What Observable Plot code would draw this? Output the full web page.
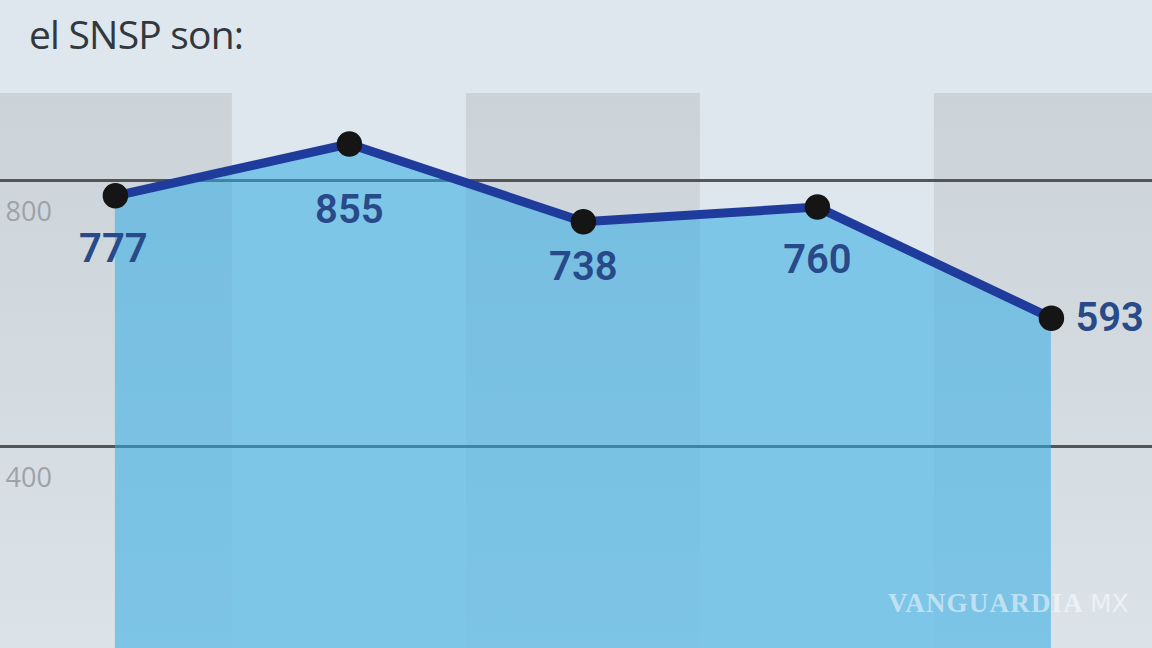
<!DOCTYPE html>
<html>
<head>
<meta charset="utf-8">
<script src="https://cdn.jsdelivr.net/npm/d3@7"></script>
<script src="https://cdn.jsdelivr.net/npm/@observablehq/plot@0.6"></script>
<style>
  html, body { margin: 0; padding: 0; }
  body { width: 1152px; height: 648px; overflow: hidden; background: #dee7ee; position: relative; font-family: "Open Sans", sans-serif; }
  #title { position: absolute; left: 29px; top: 8px; font-size: 39px; color: #33383d; letter-spacing: -0.8px; line-height: 52px; }
  #chart { position: absolute; left: 0; top: 93px; }
  #wm { position: absolute; left: 888px; top: 588px; color: rgba(255,255,255,0.5); font-family: "Liberation Serif", "DejaVu Serif", serif; font-weight: bold; font-size: 27px; letter-spacing: 1.2px; }
  #wm span { font-family: "Liberation Sans Narrow", "DejaVu Sans", sans-serif; font-weight: normal; font-size: 25px; margin-left: 6px; letter-spacing: 0; }
</style>
</head>
<body>
<div id="title">el SNSP son:</div>
<div id="chart"></div>
<div id="wm">VANGUARDIA<span>MX</span></div>
<script>
// Data
const categories = ["1", "2", "3", "4", "5"];
const values = [777, 855, 738, 760, 593];
const gridTicks = [400, 800];
const tickLabels = ["400", "800"];

const data = categories.map((c, i) => ({ i, c, v: values[i] }));
const bands = data.filter(d => d.i % 2 === 0);
const ticks = gridTicks.map((t, k) => ({ t, label: tickLabels[k] }));

const labelFont = { fontSize: 40, fontWeight: 600, fill: "#284a88", fontFamily: "Roboto, 'Open Sans', sans-serif" };

const plot = Plot.plot({
  width: 1152,
  height: 555,
  marginTop: 0, marginBottom: 0, marginLeft: 0, marginRight: 0,
  x: { type: "linear", domain: [-0.491, 4.432], axis: null },
  y: { domain: [96.2, 930.8], axis: null },
  style: { background: "transparent", overflow: "hidden" },
  marks: [
    Plot.rect(bands, { x1: d => d.i - 0.5, x2: d => d.i + 0.5, fill: "url(#bandGrad)" }),
    Plot.ruleY(ticks, { y: "t", stroke: "#333", strokeWidth: 3, strokeOpacity: 0.8 }),
    Plot.areaY(data, { x: "i", y: "v", fill: "#30ace4", fillOpacity: 0.55, clip: true }),
    Plot.line(data, { x: "i", y: "v", stroke: "#1f3c9c", strokeWidth: 9, strokeLinejoin: "round" }),
    Plot.dot(data, { x: "i", y: "v", r: 12, fill: "#151515", stroke: "#151515" }),
    Plot.text(data.filter(d => d.i === 0), { x: "i", y: "v", text: d => String(d.v), dy: 53, dx: -2, ...labelFont }),
    Plot.text(data.filter(d => d.i === 1), { x: "i", y: "v", text: d => String(d.v), dy: 66, ...labelFont }),
    Plot.text(data.filter(d => d.i === 2), { x: "i", y: "v", text: d => String(d.v), dy: 45, ...labelFont }),
    Plot.text(data.filter(d => d.i === 3), { x: "i", y: "v", text: d => String(d.v), dy: 53, ...labelFont }),
    Plot.text(data.filter(d => d.i === 4), { x: "i", y: "v", text: d => String(d.v), dx: 24, textAnchor: "start", ...labelFont }),
    Plot.text(ticks, { y: "t", text: "label", frameAnchor: "left", dx: 5, dy: 32, textAnchor: "start", fontSize: 27, fill: "#9ca2a8", fontFamily: "'Liberation Sans Narrow', 'Open Sans', sans-serif" })
  ]
});

const svg = d3.select(plot);
const defs = svg.insert("defs", ":first-child");
const g = defs.append("linearGradient").attr("id", "bandGrad").attr("x1", 0).attr("y1", 0).attr("x2", 0).attr("y2", 1);
g.append("stop").attr("offset", "0%").attr("stop-color", "#cbd3d9");
g.append("stop").attr("offset", "100%").attr("stop-color", "#dbe3e9");

document.getElementById("chart").appendChild(plot);
</script>
</body>
</html>
